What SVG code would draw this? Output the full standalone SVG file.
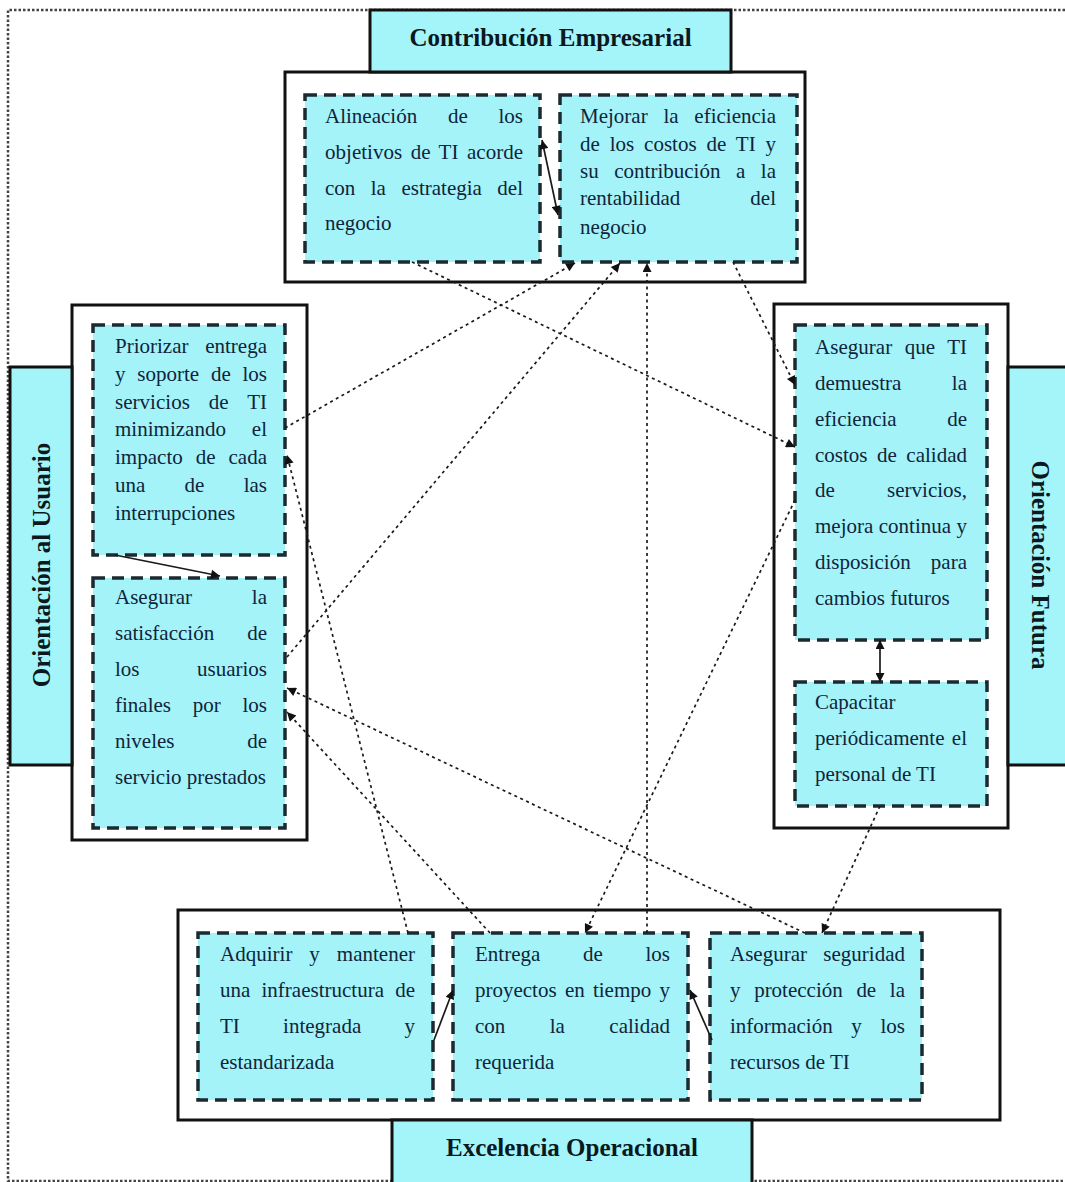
<svg xmlns="http://www.w3.org/2000/svg" width="1065" height="1182" viewBox="0 0 1065 1182">
<style>
.frame{fill:#fff;stroke:#111;stroke-width:3}
.title{fill:#A3F5FA;stroke:#111;stroke-width:3}
.node{fill:#A3F3F9;stroke:#1b2a30;stroke-width:3.5;stroke-dasharray:12 7}
.t{font-family:"Liberation Serif","Times New Roman",serif;font-size:21px;fill:#10243a}
.h{font-family:"Liberation Serif","Times New Roman",serif;font-size:25px;font-weight:bold;fill:#0b1820;text-anchor:middle}
.dot{fill:none;stroke:#1a1a1a;stroke-width:1.7;stroke-dasharray:3 3.5}
.sol{fill:none;stroke:#1a1a1a;stroke-width:1.7}
.border{fill:none;stroke:#444;stroke-width:2.5;stroke-dasharray:2.5 2}
</style>
<defs>
<marker id="ah" viewBox="0 0 10 10" refX="10" refY="5" markerWidth="11" markerHeight="9" markerUnits="userSpaceOnUse" orient="auto-start-reverse">
<path d="M0,0 L10,5 L0,10 z" fill="#111"/>
</marker>
</defs>
<rect width="1065" height="1182" fill="#fff"/>
<path class="border" d="M1065,10 H8 V1181 H1065"/>

<g id="panel-top">
<rect class="frame" x="285" y="72" width="520" height="210"/>
<rect class="title" x="370" y="10" width="361" height="62"/>
<text class="h" x="550.5" y="46">Contribución Empresarial</text>
</g>
<g id="panel-left">
<rect class="frame" x="72" y="305" width="235" height="535"/>
<rect class="title" x="10" y="367" width="62" height="398"/>
<text class="h" transform="translate(50,565) rotate(-90)">Orientación al Usuario</text>
</g>
<g id="panel-right">
<rect class="frame" x="774" y="304" width="234" height="524"/>
<rect class="title" x="1008" y="367" width="70" height="398"/>
<text class="h" transform="translate(1032,565) rotate(90)">Orientación Futura</text>
</g>
<g id="panel-bottom">
<rect class="frame" x="178" y="910" width="822" height="210"/>
<rect class="title" x="392" y="1120" width="360" height="70"/>
<text class="h" x="572" y="1156">Excelencia Operacional</text>
</g>

<g id="n1">
<rect class="node" x="305" y="95" width="235" height="167"/>
<text class="t" x="325" y="123" word-spacing="25.5" textLength="198" lengthAdjust="spacing">Alineación de los</text>
<text class="t" x="325" y="159" word-spacing="3.2" textLength="198" lengthAdjust="spacing">objetivos de TI acorde</text>
<text class="t" x="325" y="195" word-spacing="10.2" textLength="198" lengthAdjust="spacing">con la estrategia del</text>
<text class="t" x="325" y="230">negocio</text>
</g>
<g id="n2">
<rect class="node" x="560" y="95" width="237" height="167"/>
<text class="t" x="580" y="123" word-spacing="10.5" textLength="196" lengthAdjust="spacing">Mejorar la eficiencia</text>
<text class="t" x="580" y="151" word-spacing="4.6" textLength="196" lengthAdjust="spacing">de los costos de TI y</text>
<text class="t" x="580" y="178" word-spacing="10.3" textLength="196" lengthAdjust="spacing">su contribución a la</text>
<text class="t" x="580" y="205" word-spacing="64.8" textLength="196" lengthAdjust="spacing">rentabilidad del</text>
<text class="t" x="580" y="234">negocio</text>
</g>
<g id="n3">
<rect class="node" x="93" y="325" width="192" height="230"/>
<text class="t" x="115" y="353" word-spacing="11.5" textLength="152" lengthAdjust="spacing">Priorizar entrega</text>
<text class="t" x="115" y="381" word-spacing="6.5" textLength="152" lengthAdjust="spacing">y soporte de los</text>
<text class="t" x="115" y="409" word-spacing="13.6" textLength="152" lengthAdjust="spacing">servicios de TI</text>
<text class="t" x="115" y="436" word-spacing="20.7" textLength="152" lengthAdjust="spacing">minimizando el</text>
<text class="t" x="115" y="464" word-spacing="7.7" textLength="152" lengthAdjust="spacing">impacto de cada</text>
<text class="t" x="115" y="492" word-spacing="34" textLength="152" lengthAdjust="spacing">una de las</text>
<text class="t" x="115" y="520">interrupciones</text>
</g>
<g id="n4">
<rect class="node" x="93" y="578" width="192" height="250"/>
<text class="t" x="115" y="604" word-spacing="54.6" textLength="152" lengthAdjust="spacing">Asegurar la</text>
<text class="t" x="115" y="640" word-spacing="27.8" textLength="152" lengthAdjust="spacing">satisfacción de</text>
<text class="t" x="115" y="676" word-spacing="52.2" textLength="152" lengthAdjust="spacing">los usuarios</text>
<text class="t" x="115" y="712" word-spacing="16.5" textLength="152" lengthAdjust="spacing">finales por los</text>
<text class="t" x="115" y="748" word-spacing="67.4" textLength="152" lengthAdjust="spacing">niveles de</text>
<text class="t" x="115" y="784">servicio prestados</text>
</g>
<g id="n5">
<rect class="node" x="795" y="325" width="192" height="315"/>
<text class="t" x="815" y="354" word-spacing="7.2" textLength="152" lengthAdjust="spacing">Asegurar que TI</text>
<text class="t" x="815" y="390" word-spacing="45.3" textLength="152" lengthAdjust="spacing">demuestra la</text>
<text class="t" x="815" y="426" word-spacing="45.3" textLength="152" lengthAdjust="spacing">eficiencia de</text>
<text class="t" x="815" y="462" word-spacing="4.2" textLength="152" lengthAdjust="spacing">costos de calidad</text>
<text class="t" x="815" y="497" word-spacing="47" textLength="152" lengthAdjust="spacing">de servicios,</text>
<text class="t" x="815" y="533" word-spacing="0.2" textLength="152" lengthAdjust="spacing">mejora continua y</text>
<text class="t" x="815" y="569" word-spacing="14.9" textLength="152" lengthAdjust="spacing">disposición para</text>
<text class="t" x="815" y="605">cambios futuros</text>
</g>
<g id="n6">
<rect class="node" x="795" y="682" width="192" height="124"/>
<text class="t" x="815" y="709">Capacitar</text>
<text class="t" x="815" y="745" word-spacing="2.1" textLength="152" lengthAdjust="spacing">periódicamente el</text>
<text class="t" x="815" y="781">personal de TI</text>
</g>
<g id="n7">
<rect class="node" x="198" y="933" width="235" height="167"/>
<text class="t" x="220" y="961" word-spacing="11.7" textLength="195" lengthAdjust="spacing">Adquirir y mantener</text>
<text class="t" x="220" y="997" word-spacing="5.9" textLength="195" lengthAdjust="spacing">una infraestructura de</text>
<text class="t" x="220" y="1033" word-spacing="38" textLength="195" lengthAdjust="spacing">TI integrada y</text>
<text class="t" x="220" y="1069">estandarizada</text>
</g>
<g id="n8">
<rect class="node" x="453" y="933" width="235" height="167"/>
<text class="t" x="475" y="961" word-spacing="37.4" textLength="195" lengthAdjust="spacing">Entrega de los</text>
<text class="t" x="475" y="997" word-spacing="3" textLength="195" lengthAdjust="spacing">proyectos en tiempo y</text>
<text class="t" x="475" y="1033" word-spacing="39.2" textLength="195" lengthAdjust="spacing">con la calidad</text>
<text class="t" x="475" y="1069">requerida</text>
</g>
<g id="n9">
<rect class="node" x="710" y="933" width="212" height="167"/>
<text class="t" x="730" y="961" word-spacing="11.1" textLength="175" lengthAdjust="spacing">Asegurar seguridad</text>
<text class="t" x="730" y="997" word-spacing="8.4" textLength="175" lengthAdjust="spacing">y protección de la</text>
<text class="t" x="730" y="1033" word-spacing="13.4" textLength="175" lengthAdjust="spacing">información y los</text>
<text class="t" x="730" y="1069">recursos de TI</text>
</g>

<g id="connectors">
<path class="dot" d="M285,428 L575,263" marker-end="url(#ah)"/>
<path class="dot" d="M287,657 L620,263" marker-end="url(#ah)"/>
<path class="dot" d="M412,262 L795,447" marker-end="url(#ah)"/>
<path class="dot" d="M733,262 L795,385" marker-end="url(#ah)"/>
<path class="dot" d="M647,933 L647,263" marker-end="url(#ah)"/>
<path class="dot" d="M805,933 L287,688" marker-end="url(#ah)"/>
<path class="dot" d="M490,933 L287,712" marker-end="url(#ah)"/>
<path class="dot" d="M408,933 L287,455" marker-end="url(#ah)"/>
<path class="dot" d="M795,500 L585,933" marker-end="url(#ah)"/>
<path class="dot" d="M880,806 L822,933" marker-end="url(#ah)"/>
<path class="sol" d="M542,140 L558,215" marker-start="url(#ah)" marker-end="url(#ah)"/>
<path class="sol" d="M115,555 L220,576" marker-end="url(#ah)"/>
<path class="sol" d="M880,640 L880,682" marker-start="url(#ah)" marker-end="url(#ah)"/>
<path class="sol" d="M434,1040 L453,990" marker-end="url(#ah)"/>
<path class="sol" d="M712,1040 L690,990" marker-end="url(#ah)"/>
</g>
</svg>
